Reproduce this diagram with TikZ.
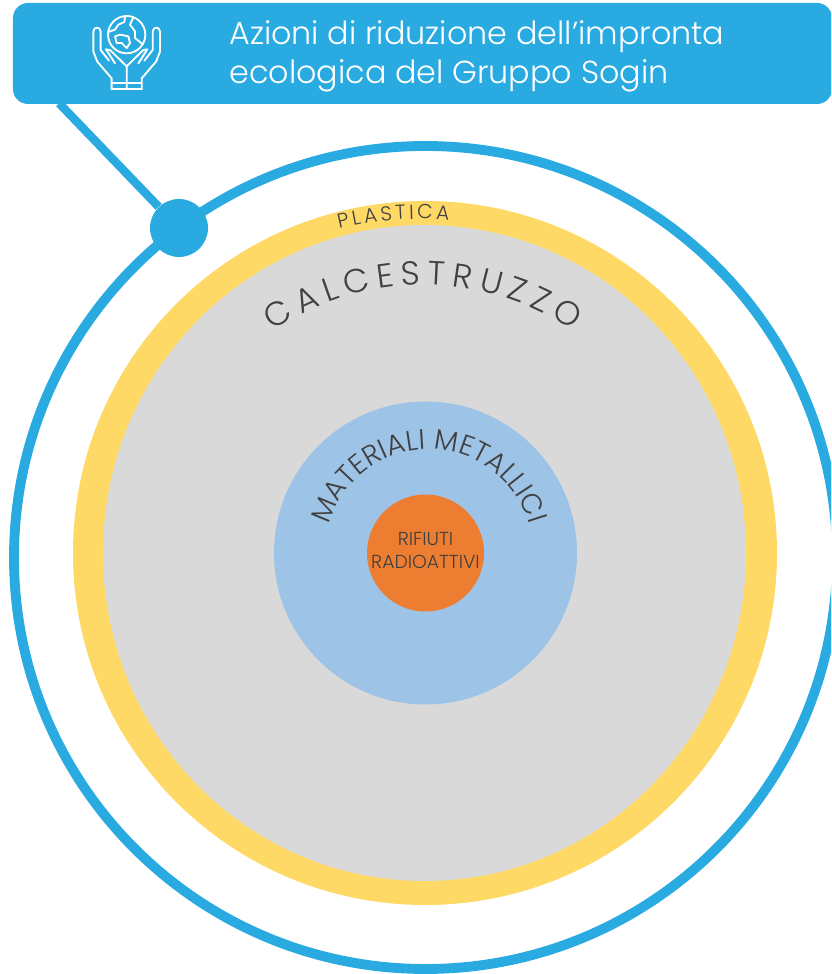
\documentclass[tikz,border=0pt]{standalone}
\usepackage{fontspec}
\setmainfont{Poppins}[UprightFont=* Light]
\usetikzlibrary{decorations.text,shapes.geometric}
\definecolor{sogin}{HTML}{29ABE2}
\definecolor{plastica}{HTML}{FFD966}
\definecolor{calcestruzzo}{HTML}{D9D9D9}
\definecolor{metalli}{HTML}{9DC3E6}
\definecolor{rifiuti}{HTML}{ED7D31}
\definecolor{scritta}{HTML}{404040}
\tikzset{
  disc/.style={circle,inner sep=0pt,minimum size=#1},
  icona/.style={white,line width=1.05pt,line join=round,line cap=round},
  arco/.style={decorate,decoration={text along path,text align=fit to path,text={#1}}}
}
\begin{document}
\begin{tikzpicture}
\clip (0,0) rectangle (16.62,19.48);
\node[disc=16.46cm,draw=sogin,line width=5.6pt] (anello) at (8.51,8.33) {};
\node[disc=14.08cm,fill=plastica] (plastica) at (8.5,8.42) {};
\node[ellipse,inner sep=0pt,minimum width=12.86cm,minimum height=13.12cm,fill=calcestruzzo] (cls) at (8.49,8.42) {};
\node[disc=6.06cm,fill=metalli] (metallici) at (8.51,8.42) {};
\node[disc=2.34cm,fill=rifiuti] (nucleo) at (8.51,8.42) {};
\node[rectangle,rounded corners=0.3cm,fill=sogin,inner sep=0pt,minimum width=16.38cm,minimum height=2.02cm] (testata) at (8.45,18.41) {};
\coordinate (attacco) at ([xshift=0.93cm,yshift=0.02cm]testata.south west);
\node[disc=1.16cm,fill=sogin] (punto) at (3.58,14.92) {};
\draw[sogin,line width=4.8pt] (attacco) -- (punto);
\node[anchor=west,inner sep=0pt,align=left,white,font=\fontsize{18.1}{22.2}\selectfont] (titolo) at (4.58,18.36) {Azioni di riduzione dell’impronta\\ecologica del Gruppo Sogin};
\node[align=center,inner sep=0pt,text=scritta,font=\fontsize{10.7}{13.2}\selectfont] (etichetta) at ([yshift=0.05cm]nucleo) {RIFIUTI\\RADIOATTIVI};
% scritte curve
\path[arco={|\fontsize{11.5}{11.5}\selectfont\color{scritta}|PLASTICA}] (8.4,8.42) ++(104:6.68) arc[start angle=104,end angle=85,radius=6.68];
\path[arco={|\fontsize{19}{19}\selectfont\color{scritta}|CALCESTRUZZO}] (8.46,8.42) ++(124:5.36) arc[start angle=124,end angle=56,radius=5.36];
\path[arco={|\fontsize{16}{16}\selectfont\color{scritta}|MATERIALI METALLICI}] (8.58,8.42) ++(164:2.08) arc[start angle=164,end angle=16,radius=2.08];
% icona
\begin{scope}[shift={(1.7,19.32)},x=0.00667cm,y=-0.00667cm]
\draw[icona] (125,80) circle (56);
\draw[icona] (120,27) -- (118,42) -- (100,50) -- (90,65) -- (70,72);
\draw[icona] (145,28) -- (135,50) -- (150,70) -- (150,90) -- (172,108);
\draw[icona] (90,85) -- (105,80) -- (130,85) -- (135,105) -- (125,120) -- (110,105) -- (95,105) -- cycle;
\draw[icona] (80,244) -- (80,211) -- (37,161) -- (25,131) -- (25,71) .. controls (25,55) and (47,55) .. (47,71) -- (47,126) -- (72,158);
\draw[icona] (170,244) -- (170,211) -- (213,161) -- (225,131) -- (225,71) .. controls (225,55) and (203,55) .. (203,71) -- (203,126) -- (178,158);
\draw[icona] (125,244) -- (125,175) -- (75,126) -- (63,124) -- (90,166);
\draw[icona] (125,175) -- (175,126) -- (187,124) -- (160,166);
\draw[icona] (80,226) -- (170,226) (80,244) -- (170,244);
\end{scope}
\end{tikzpicture}
\end{document}
